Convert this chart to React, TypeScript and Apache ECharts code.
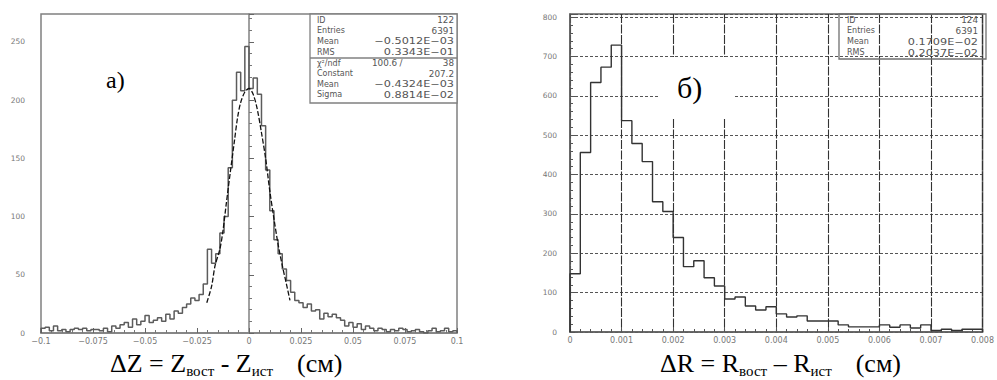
import React, { useEffect, useRef } from "react";
import * as echarts from "echarts";

// ---------- data: ΔZ histogram (100 bins, -0.1 .. 0.1) ----------
const dzMin = -0.1;
const dzBinWidth = 0.002;
const dzCounts = [
  4, 5, 2, 6, 2, 3, 1, 3, 4, 3,
  4, 2, 3, 3, 2, 4, 1, 6, 4, 7,
  9, 5, 12, 7, 10, 15, 9, 11, 13, 10,
  16, 12, 19, 17, 22, 25, 30, 28, 33, 42,
  72, 60, 68, 86, 100, 142, 200, 224, 208, 246,
  210, 219, 205, 178, 140, 105, 80, 68, 55, 45,
  35, 28, 26, 22, 25, 19, 20, 12, 17, 14,
  16, 13, 11, 6, 9, 5, 8, 3, 6, 4,
  2, 4, 3, 1, 3, 2, 4, 3, 1, 2,
  3, 1, 0, 2, 4, 1, 2, 4, 1, 2,
];
// gaussian fit curve
const dzFitX = [-0.0203, -0.018, -0.0163, -0.014, -0.0125, -0.011, -0.009, -0.007, -0.0055, -0.004, -0.002, 0, 0.002, 0.004, 0.006, 0.008, 0.01, 0.012, 0.014, 0.016, 0.018, 0.0197];
const dzFitY = [26, 40, 58, 72, 88, 110, 138, 165, 185, 198, 207, 210, 205, 192, 172, 150, 122, 98, 76, 58, 42, 28];

// ---------- data: ΔR histogram (40 bins, 0 .. 0.008) ----------
const drMin = 0;
const drBinWidth = 0.0002;
const drCounts = [
  148, 456, 634, 673, 729, 537, 479, 433, 331, 306,
  240, 166, 181, 138, 117, 84, 89, 66, 56, 64,
  46, 38, 41, 28, 28, 28, 18, 13, 13, 13,
  18, 12, 18, 10, 18, 4, 7, 4, 7, 7,
];

// ---------- stats boxes ----------
const statsLeftRows = [["ID", "122"], ["Entries", "6391"], ["Mean", "−0.5012E−03"], ["RMS", "0.3343E−01"]];
const fitChi2 = ["χ²/ndf", "100.6", "/", "38"];
const fitLeftRows = [["Constant", "207.2"], ["Mean", "−0.4324E−03"], ["Sigma", "0.8814E−02"]];
const statsRightRows = [["ID", "124"], ["Entries", "6391"], ["Mean", "0.1709E−02"], ["RMS", "0.2037E−02"]];

const histPoints = (min: number, width: number, counts: number[]) => {
  const pts: number[][] = [[min, 0]];
  counts.forEach((c, i) => {
    const x0 = min + i * width;
    pts.push([x0, c], [x0 + width, c]);
  });
  pts.push([min + counts.length * width, 0]);
  return pts;
};

const fmt = (v: number, d: number) => {
  const r = Math.round(v * Math.pow(10, d)) / Math.pow(10, d);
  if (r === 0) return "0";
  return String(r).replace("-", "−");
};

const SANS = "DejaVu Sans";
const SERIF = "Liberation Serif";
const tickLabel = { fontSize: 7.5, color: "#777", fontFamily: SANS };

export default function App() {
  const ref = useRef<HTMLDivElement>(null);
  useEffect(() => {
    if (!ref.current) return;
    const chart = echarts.init(ref.current, undefined, { renderer: "svg" });

    const statText = (x: number, y: number, text: string, align: string, isValue = false) => {
      const wide = isValue && text.indexOf("E") >= 0;
      return {
        type: "text",
        x,
        y,
        scaleX: wide ? 1.28 : 1,
        z: 100,
        style: {
          text, x: 0, y: 0, align, verticalAlign: "middle",
          fontSize: isValue ? 8.8 : 8, fontFamily: SANS, fill: "#555",
        },
      };
    };

    const graphics: any[] = [];
    // left stats box
    graphics.push({ type: "rect", z: 99, shape: { x: 310, y: 14, width: 147, height: 89 }, style: { fill: "#fff", stroke: "#808080", lineWidth: 1.3 } });
    graphics.push({ type: "line", z: 99, shape: { x1: 310, y1: 58, x2: 457, y2: 58 }, style: { stroke: "#808080", lineWidth: 1.3 } });
    statsLeftRows.forEach((r, i) => {
      const y = 20 + i * 10.7;
      graphics.push(statText(317, y, r[0], "left"));
      graphics.push(statText(454, y, r[1], "right", true));
    });
    graphics.push(statText(317, 63, fitChi2[0], "left"));
    graphics.push(statText(372, 63, fitChi2[1], "left", true));
    graphics.push(statText(401, 63, fitChi2[2], "center", true));
    graphics.push(statText(454, 63, fitChi2[3], "right", true));
    fitLeftRows.forEach((r, i) => {
      const y = 73.5 + i * 10.7;
      graphics.push(statText(317, y, r[0], "left"));
      graphics.push(statText(454, y, r[1], "right", true));
    });
    // right stats box (transparent)
    graphics.push({ type: "rect", z: 99, shape: { x: 839, y: 14, width: 147, height: 45 }, style: { fill: "none", stroke: "#707070", lineWidth: 1.3 } });
    statsRightRows.forEach((r, i) => {
      const y = 20 + i * 10.9;
      graphics.push(statText(847, y, r[0], "left"));
      graphics.push(statText(978, y, r[1], "right", true));
    });
    // panel labels
    graphics.push({ type: "text", z: 100, x: 106, y: 68, style: { text: "а)", fontSize: 24, fontFamily: SERIF, fill: "#000" } });
    graphics.push({ type: "rect", z: 98, shape: { x: 660, y: 57, width: 75, height: 61 }, style: { fill: "#fff" } });
    graphics.push({ type: "text", z: 100, x: 677, y: 72, style: { text: "б)", fontSize: 30, fontFamily: SERIF, fill: "#000" } });
    // axis titles
    const rich = {
      m: { fontSize: 26, fontFamily: SERIF, fill: "#000", lineHeight: 30 },
      s: { fontSize: 15, fontFamily: SERIF, fill: "#000", lineHeight: 10, verticalAlign: "bottom" },
      u: { fontSize: 26, fontFamily: SERIF, fill: "#000", lineHeight: 30, padding: [0, 0, 0, 24] },
    };
    graphics.push({ type: "text", z: 100, x: 110, y: 348, style: { text: "{m|ΔZ = Z}{s|вост}{m| - Z}{s|ист}{u|(см)}", rich } });
    graphics.push({ type: "text", z: 100, x: 660, y: 348, style: { text: "{m|ΔR = R}{s|вост}{m| – R}{s|ист}{u|(см)}", rich } });

    chart.setOption({
      animation: false,
      backgroundColor: "#fff",
      grid: [
        { left: 41, top: 14, width: 416, height: 319, show: true, borderColor: "#808080", borderWidth: 1.5 },
        { left: 570, top: 14, width: 416, height: 318, show: true, borderColor: "#606060", borderWidth: 1.5 },
      ],
      xAxis: [
        {
          gridIndex: 0, type: "value", min: -0.1, max: 0.1, interval: 0.025,
          axisLine: { show: true, onZero: false, lineStyle: { color: "#808080", width: 1.5 } },
          axisTick: { show: true, inside: true, length: 5, lineStyle: { color: "#666" } },
          minorTick: { show: true, splitNumber: 5, length: 3, lineStyle: { color: "#777" } },
          splitLine: { show: false },
          axisLabel: { ...tickLabel, fontSize: 8, margin: 4, formatter: (v: number) => fmt(v, 3) },
        },
        {
          gridIndex: 1, type: "value", min: 0, max: 0.008, interval: 0.001,
          axisLine: { show: true, onZero: false, lineStyle: { color: "#606060", width: 1.5 } },
          axisTick: { show: true, inside: true, length: 5, lineStyle: { color: "#555" } },
          minorTick: { show: true, splitNumber: 5, length: 3, lineStyle: { color: "#555" } },
          splitLine: { show: true, lineStyle: { color: "#333", type: [9, 1.5], width: 1.1 } },
          axisLabel: { ...tickLabel, fontSize: 8, margin: 4, formatter: (v: number) => fmt(v, 4) },
        },
      ],
      yAxis: [
        {
          gridIndex: 0, type: "value", min: 0, max: 274, interval: 50,
          axisLine: { show: true, lineStyle: { color: "#808080", width: 1.5 } },
          axisTick: { show: true, inside: true, length: 5, lineStyle: { color: "#666" } },
          minorTick: { show: true, splitNumber: 5, length: 3, lineStyle: { color: "#777" } },
          splitLine: { show: false },
          axisLabel: { ...tickLabel, margin: 16, formatter: (v: number) => (v % 50 === 0 ? String(v) : "") },
        },
        {
          gridIndex: 1, type: "value", min: 0, max: 808, interval: 100,
          axisLine: { show: true, lineStyle: { color: "#606060", width: 1.5 } },
          axisTick: { show: true, inside: true, length: 5, lineStyle: { color: "#555" } },
          minorTick: { show: true, splitNumber: 5, length: 3, lineStyle: { color: "#555" } },
          splitLine: { show: true, lineStyle: { color: "#555", type: [3, 2], width: 1 } },
          axisLabel: { ...tickLabel, margin: 13, formatter: (v: number) => (v % 100 === 0 ? String(v) : "") },
        },
      ],
      series: [
        {
          type: "line", xAxisIndex: 0, yAxisIndex: 0, data: histPoints(dzMin, dzBinWidth, dzCounts),
          showSymbol: false, silent: true, lineStyle: { color: "#5c5c5c", width: 1.5 }, z: 3,
        },
        {
          type: "line", xAxisIndex: 0, yAxisIndex: 0, data: dzFitX.map((x, i) => [x, dzFitY[i]]),
          showSymbol: false, silent: true, smooth: 0.3, lineStyle: { color: "#111", width: 1.3, type: [5, 2] }, z: 4,
        },
        {
          type: "line", xAxisIndex: 1, yAxisIndex: 1, data: histPoints(drMin, drBinWidth, drCounts),
          showSymbol: false, silent: true, lineStyle: { color: "#333", width: 1.4 }, z: 3,
        },
      ],
      graphic: graphics,
    });
    return () => chart.dispose();
  }, []);
  return <div ref={ref} style={{ position: "fixed", left: 0, top: 0, width: 997, height: 380, background: "#fff" }} />;
}
